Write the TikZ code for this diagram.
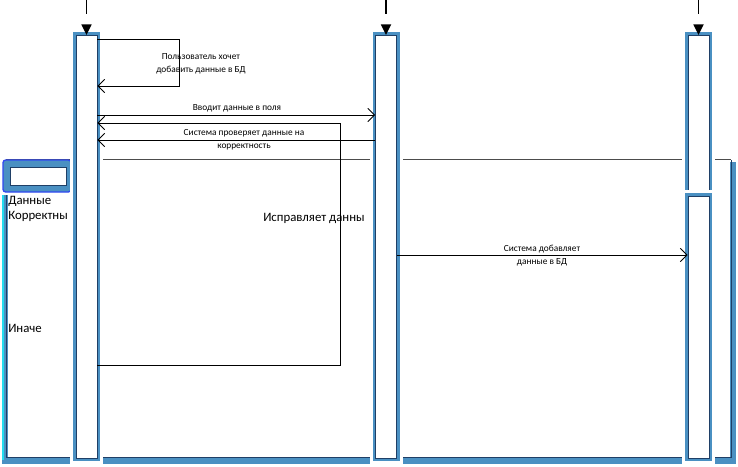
\documentclass[tikz,border=0pt]{standalone}
\usepackage{fontspec}
\setmainfont{Carlito}
\usepackage{xcolor}
\usepackage{tikz}
\usetikzlibrary{arrows.meta,positioning}

\definecolor{shadeblue}{HTML}{4A90C2}
\definecolor{lineblue}{HTML}{1F3F66}
\definecolor{edgecyan}{HTML}{22DDF0}
\definecolor{tagblue}{HTML}{3048F0}

\begin{document}
\begin{tikzpicture}[
    x=0.75pt, y=-0.75pt,
    bar/.style={draw=lineblue, fill=white, line width=0.6pt,
                minimum width=15.75pt, inner sep=0pt, anchor=north,
                preaction={draw=white, line width=9pt},
                preaction={draw=shadeblue, line width=4.5pt}},
    msg/.style={-{Straight Barb[length=5pt,width=10pt]}, line width=0.7pt},
    lifearrow/.style={-{Triangle[length=8pt,width=7.5pt]}, line width=1.3pt,
                      dash pattern=on 10.5pt off 20pt},
    lbl/.style={font=\fontsize{7}{9.5}\selectfont, align=center, inner sep=1pt},
    guard/.style={font=\fontsize{9.6}{11.2}\selectfont, align=left, inner sep=0pt}
  ]
  \useasboundingbox (0,0) rectangle (738,467);

  % Frame of the alternative
  \draw[shadeblue, line width=5pt] (5,195) -- (5,461) -- (733,461) -- (733,162);
  \draw[edgecyan, line width=1.5pt] (3,195) -- (3,460);
  \draw[lineblue, line width=0.6pt] (6,195) -- (6,457) -- (731,457) -- (731,160);
  \draw[black!70, line width=0.6pt] (6,159) -- (731,159);
  \node[draw=tagblue, fill=shadeblue, rounded corners=2pt, line width=1pt,
        minimum width=51pt, minimum height=24pt, inner sep=0pt] (altTag) at (37,176) {};
  \node[draw=lineblue, fill=white, minimum width=42pt, minimum height=13.5pt,
        inner sep=0pt] (altName) at (38,176) {};

  % Guards
  \node[guard, anchor=north west] (guardOk) at (8,196) {Данные\\Корректны};
  \node[guard, anchor=west] (guardElse) at (8,328) {Иначе};
  \node[guard, anchor=west] (guardFix) at (263,218) {Исправляет данны};

  % Activation bars
  \node[bar, minimum height=317.25pt] (user) at (86.5,35) {};
  \node[bar, minimum height=317.25pt] (sys) at (386,35) {};
  \node[bar, minimum height=117.75pt] (dbTop) at (698.5,35) {};
  \node[bar, minimum height=196.5pt] (dbLow) at (698.5,196) {};

  % Lifeline heads
  \coordinate (userHead) at (86.5,0);
  \coordinate (sysHead) at (386,0);
  \coordinate (dbHead) at (698.5,0);
  \draw[lifearrow] (userHead) -- (user.north);
  \draw[lifearrow] (sysHead) -- (sys.north);
  \draw[lifearrow] (dbHead) -- (dbTop.north);

  % Rows of the messages
  \coordinate (selfCorner) at (179,39);
  \coordinate (selfBack) at (0,86);
  \coordinate (enterRow) at (0,115);
  \coordinate (loopCorner) at (340,123);
  \coordinate (loopBack) at (0,365);
  \coordinate (checkRow) at (0,140);
  \coordinate (addRow) at (0,255);

  % Messages
  \draw[msg] (user.east |- selfCorner) -- (selfCorner) |- (user.east |- selfBack);
  \node[lbl] (selfLbl) at (201,64) {Пользователь хочет\\добавить данные в БД};
  \draw[msg] (user.east |- enterRow) -- (sys.west |- enterRow);
  \node[lbl] (enterLbl) at (237,108) {Вводит данные в поля};
  \draw[msg] (user.east |- loopBack) -| (loopCorner) -- (user.east |- loopCorner);
  \draw[msg] (sys.west |- checkRow) -- (user.east |- checkRow);
  \node[lbl] (checkLbl) at (244,139.5) {Система проверяет данные на\\корректность};
  \draw[msg] (sys.east |- addRow) -- (dbLow.west |- addRow);
  \node[lbl] (addLbl) at (542,255.5) {Система добавляет\\данные в БД};
\end{tikzpicture}
\end{document}
